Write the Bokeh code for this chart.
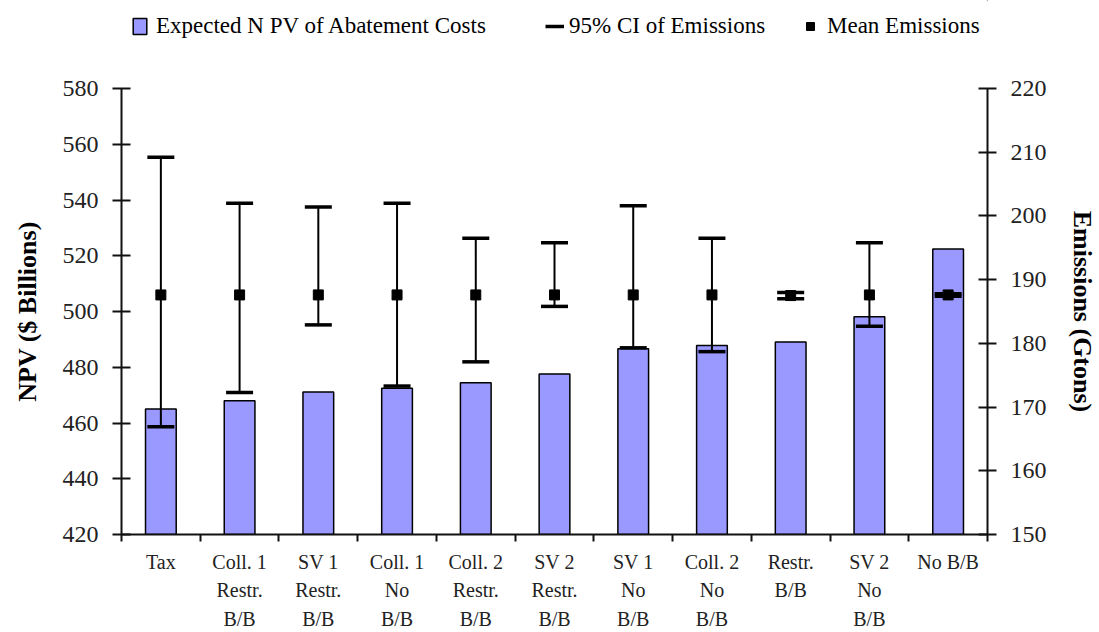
from bokeh.plotting import figure
from bokeh.layouts import column
from bokeh.models import (Range1d, LinearAxis, FixedTicker, Legend, LegendItem,
                          ColumnDataSource, SingleIntervalTicker)
from bokeh.embed import file_html
from bokeh.resources import INLINE

# ---- data ----
categories = ["Tax", "Coll. 1\nRestr.\nB/B", "SV 1\nRestr.\nB/B", "Coll. 1\nNo\nB/B",
              "Coll. 2\nRestr.\nB/B", "SV 2\nRestr.\nB/B", "SV 1\nNo\nB/B",
              "Coll. 2\nNo\nB/B", "Restr.\nB/B", "SV 2\nNo\nB/B", "No B/B"]
npv = [465.0, 468.0, 471.1, 472.5, 474.4, 477.6, 486.6, 487.8, 489.1, 498.1, 522.4]
em_mean = [187.6, 187.6, 187.6, 187.6, 187.6, 187.6, 187.6, 187.6, 187.5, 187.6, 187.6]
em_low = [166.9, 172.3, 182.9, 173.3, 177.1, 185.8, 179.3, 178.7, 187.0, 182.7, 187.4]
em_high = [209.2, 202.0, 201.4, 202.0, 196.5, 195.8, 201.6, 196.5, 188.0, 195.8, 187.8]
npv_range = (420, 580)
em_range = (150, 220)
legend_labels = ["Expected N PV of Abatement Costs", "95% CI of Emissions", "Mean Emissions"]

FONT = "Liberation Serif"
BAR_FILL = "#9999FF"
xs = list(range(1, len(categories) + 1))
src = ColumnDataSource(dict(x=xs, npv=npv, mean=em_mean, low=em_low, high=em_high))

LEG_H = 50
p = figure(width=1099, height=632 - LEG_H, output_backend="svg", toolbar_location=None,
           x_range=Range1d(0.5, len(categories) + 0.5),
           y_range=Range1d(*npv_range),
           min_border_left=121, min_border_right=105, min_border_top=88 - LEG_H,
           min_border_bottom=90)
p.outline_line_color = None
p.grid.visible = False
p.extra_y_ranges = {"em": Range1d(*em_range)}
p.background_fill_color = "white"
p.border_fill_color = "white"

p.vbar(x="x", top="npv", bottom=npv_range[0], width=0.39, source=src,
       fill_color=BAR_FILL, line_color="black", line_width=1.5)
p.segment(x0="x", y0="low", x1="x", y1="high", source=src, y_range_name="em",
          line_color="black", line_width=2)
p.scatter(x="x", y="low", source=src, y_range_name="em", marker="dash", size=27,
          line_color="black", line_width=3.5)
p.scatter(x="x", y="high", source=src, y_range_name="em", marker="dash", size=27,
          line_color="black", line_width=3.5)
p.scatter(x="x", y="mean", source=src, y_range_name="em", marker="square", size=10,
          fill_color="black", line_color="black")

# ---- axes ----
yl = p.yaxis[0]
yl.ticker = SingleIntervalTicker(interval=20)
yl.axis_label = "NPV ($ Billions)"
yr = LinearAxis(y_range_name="em", ticker=SingleIntervalTicker(interval=10),
                axis_label="Emissions (Gtons)")
p.add_layout(yr, "right")
for ax in (yl, yr):
    ax.axis_line_width = 2
    ax.axis_line_color = "#111111"
    ax.major_tick_line_width = 2
    ax.major_tick_line_color = "#111111"
    ax.major_tick_out = 9
    ax.major_tick_in = 9
    ax.minor_tick_line_color = None
    ax.major_label_text_font = FONT
    ax.major_label_text_font_size = "24px"
    ax.major_label_text_color = "#222222"
    ax.major_label_standoff = 14
    ax.axis_label_text_font = FONT
    ax.axis_label_text_font_style = "bold"
    ax.axis_label_text_font_size = "26px"
    ax.axis_label_text_color = "black"
    ax.axis_label_standoff = 18

xa = p.xaxis[0]
xa.ticker = FixedTicker(ticks=xs, minor_ticks=[x - 0.5 for x in xs] + [xs[-1] + 0.5])
xa.major_label_overrides = {x: c for x, c in zip(xs, categories)}
xa.major_tick_line_color = None
xa.major_tick_out = 0
xa.major_tick_in = 0
xa.minor_tick_line_color = "#111111"
xa.minor_tick_line_width = 2
xa.minor_tick_out = 7
xa.minor_tick_in = 0
xa.axis_line_width = 2
xa.axis_line_color = "#111111"
xa.major_label_text_font = FONT
xa.major_label_text_font_size = "20px"
xa.major_label_text_color = "#222222"
xa.major_label_text_line_height = 1.3
xa.major_label_standoff = 9

# ---- legend strip (separate figure above the chart; its frame aligns with the chart's) ----
lf = figure(width=1099, height=LEG_H, output_backend="svg", toolbar_location=None,
            x_range=Range1d(0, 1), y_range=Range1d(0, 1),
            min_border_left=0, min_border_right=0, min_border_top=0, min_border_bottom=0)
lf.axis.visible = False
lf.grid.visible = False
lf.outline_line_color = None
lf.background_fill_color = "white"
lf.border_fill_color = "white"
# sample glyphs for the legend only, placed outside the visible range
bar_leg = lf.vbar(x=[5], top=[6], bottom=[5], width=0.4, fill_color=BAR_FILL,
                  line_color="black", line_width=1.5)
ci_leg = lf.line(x=[5, 6], y=[5, 5], line_color="black", line_width=3.5)
mean_leg = lf.quad(left=[5], right=[6], top=[6], bottom=[5],
                   fill_color="black", line_color="black")

def make_legend(label, renderer, loc, gw, gh, standoff):
    lg = Legend(items=[LegendItem(label=label, renderers=[renderer])],
                location=loc, orientation="horizontal",
                glyph_width=gw, glyph_height=gh, label_standoff=standoff,
                padding=0, margin=0, border_line_color=None,
                background_fill_alpha=0, label_text_font=FONT,
                label_text_font_size="23px", label_text_color="black",
                label_height=20)
    lf.add_layout(lg, "center")

make_legend(legend_labels[0], bar_leg, (10, 11), 17, 20, 8)
make_legend(legend_labels[1], ci_leg, (424, 11), 19, 20, 5)
make_legend(legend_labels[2], mean_leg, (684, 11), 10, 10, 12)

layout = column(lf, p, spacing=0)
open("out.html", "w").write(file_html(layout, INLINE))
